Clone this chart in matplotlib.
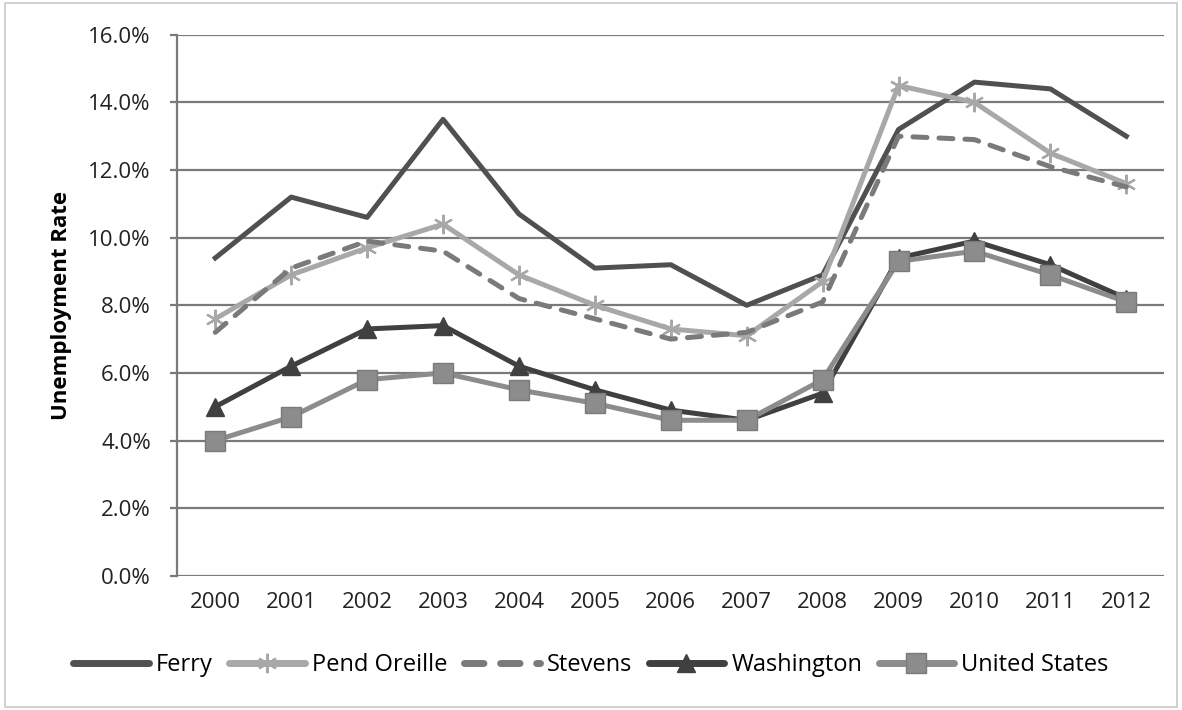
import matplotlib.pyplot as plt
from matplotlib.ticker import FuncFormatter

years = ['2000', '2001', '2002', '2003', '2004', '2005', '2006',
         '2007', '2008', '2009', '2010', '2011', '2012']

ferry = [9.4, 11.2, 10.6, 13.5, 10.7, 9.1, 9.2, 8.0, 8.9, 13.2, 14.6, 14.4, 13.0]
pend_oreille = [7.6, 8.9, 9.7, 10.4, 8.9, 8.0, 7.3, 7.1, 8.7, 14.5, 14.0, 12.5, 11.6]
stevens = [7.2, 9.1, 9.9, 9.6, 8.2, 7.6, 7.0, 7.2, 8.1, 13.0, 12.9, 12.1, 11.5]
washington = [5.0, 6.2, 7.3, 7.4, 6.2, 5.5, 4.9, 4.6, 5.4, 9.4, 9.9, 9.2, 8.2]
united_states = [4.0, 4.7, 5.8, 6.0, 5.5, 5.1, 4.6, 4.6, 5.8, 9.3, 9.6, 8.9, 8.1]

plt.rcParams['font.family'] = ['Open Sans', 'DejaVu Sans']

fig = plt.figure(figsize=(11.82, 7.10), dpi=100)
ax = fig.add_axes([0.150, 0.189, 0.835, 0.762])

# outer border of the chart area
fig.patches.append(plt.Rectangle((0.004, 0.004), 0.992, 0.992, transform=fig.transFigure,
                                 fill=False, edgecolor='#c8c8c8', linewidth=1.2))

x = list(range(len(years)))
lw = 3.6
ax.plot(x, ferry, color='#505050', lw=lw, label='Ferry')
ax.plot(x, pend_oreille, color='#a8a8a8', lw=lw, marker=(6, 2, 0), ms=14, mew=1.6,
        mec='#a8a8a8', label='Pend Oreille')
ax.plot(x, stevens, color='#7a7a7a', lw=lw, ls=(0, (2.8, 2.4)), dash_capstyle='round',
        label='Stevens')
ax.plot(x, washington, color='#404040', lw=lw, marker='^', ms=13, label='Washington')
ax.plot(x, united_states, color='#8c8c8c', lw=lw, marker='s', ms=15, mec='#7a7a7a',
        mew=1, label='United States')

ax.set_xlim(-0.5, len(years) - 0.5)
ax.set_ylim(0, 16)
ax.set_yticks(range(0, 17, 2))
ax.yaxis.set_major_formatter(FuncFormatter(lambda v, p: f'{v:.1f}%'))
ax.set_xticks(x)
ax.set_xticklabels(years)

ax.grid(axis='y', color='#7a7a7a', lw=1.6)
ax.set_axisbelow(True)
for side in ['top', 'right', 'bottom']:
    ax.spines[side].set_visible(False)
ax.spines['left'].set_color('#7a7a7a')
ax.spines['left'].set_linewidth(1.6)
ax.tick_params(axis='y', length=5, width=1.6, color='#7a7a7a', labelsize=16,
               labelcolor='#222222', pad=14)
ax.tick_params(axis='x', length=0, labelsize=16, labelcolor='#222222', pad=12)

ax.set_ylabel('Unemployment Rate', fontsize=16, fontweight='bold', labelpad=12)

leg = ax.legend(loc='center', bbox_to_anchor=(0.5, 0.063), bbox_transform=fig.transFigure,
                ncol=5, frameon=False, fontsize=17, handlelength=3.2, handletextpad=0.3,
                columnspacing=0.7, borderpad=0)
for line in leg.get_lines():
    line.set_linewidth(5)
    line.set_solid_capstyle('round')

fig.savefig('out.png', dpi=100)
